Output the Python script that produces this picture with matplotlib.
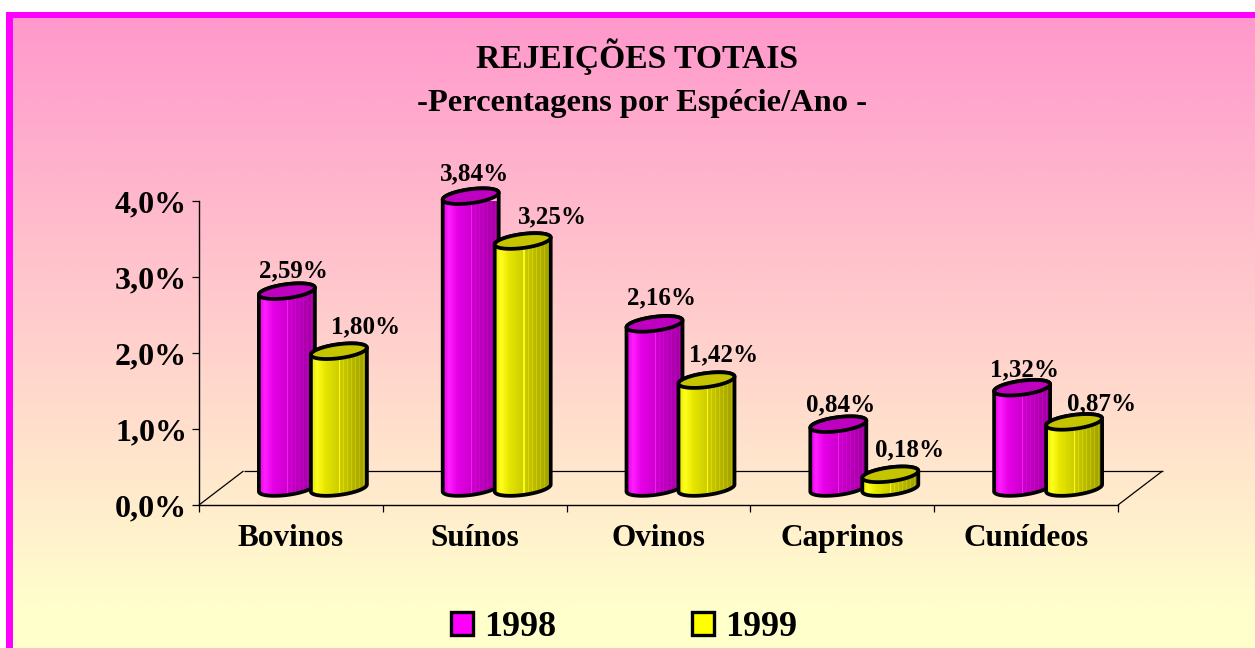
import numpy as np
import matplotlib
matplotlib.use("Agg")
import matplotlib.pyplot as plt
from matplotlib.patches import PathPatch, Patch, Rectangle
from matplotlib.path import Path
from matplotlib.colors import LinearSegmentedColormap

categories = ["Bovinos", "Suínos", "Ovinos", "Caprinos", "Cunídeos"]
years = ["1998", "1999"]
values_1998 = [2.59, 3.84, 2.16, 0.84, 1.32]
values_1999 = [1.80, 3.25, 1.42, 0.18, 0.87]
labels_1998 = ["2,59%", "3,84%", "2,16%", "0,84%", "1,32%"]
labels_1999 = ["1,80%", "3,25%", "1,42%", "0,18%", "0,87%"]
yticks = [0, 1, 2, 3, 4]
yticklabels = ["0,0%", "1,0%", "2,0%", "3,0%", "4,0%"]
side_color = [(1, 0, 1), (1, 1, 0)]
top_color = ["#C000C0", "#C4C400"]
# label placement relative to the top of each cylinder, in pixels (dx, dy upward)
label_px_1998 = [(7, 20), (4, 22), (7, 26), (2, 19), (2, 18)]
label_px_1999 = [(27, 24), (30, 24), (17, 25), (19, 25), (27, 18)]

W, H = 1255, 648
plt.rcParams["font.family"] = ["Liberation Serif", "DejaVu Serif"]
plt.rcParams["font.weight"] = "bold"
fig = plt.figure(figsize=(W / 100, H / 100), dpi=100, facecolor="white")

# frame + background gradient
fig.add_artist(Rectangle((6 / W, 0), 1 - 6 / W, 1 - 12 / H, transform=fig.transFigure,
                         fc="#FF00FF", ec="none", zorder=-10))
bg = fig.add_axes([13 / W, 0, 1 - 13 / W, 1 - 18 / H], zorder=0)
bg.axis("off")
cmap = LinearSegmentedColormap.from_list("bg", ["#FF99CC", "#FFFFCC"])
grad = np.clip(np.linspace(0, 1.06, 256), 0, 1)[:, None]
bg.imshow(grad, aspect="auto", cmap=cmap, vmin=0, vmax=1)

ax = fig.add_axes([199 / W, 1 - 505 / H, (1118 - 199) / W, (505 - 201) / H], zorder=1)
ax.patch.set_alpha(0)
ax.set_xlim(0, 5)
ax.set_ylim(0, 4)
ux = 5 / 919   # x data units per pixel
uy = 4 / 304   # y data units per pixel
for s in ("top", "right"):
    ax.spines[s].set_visible(False)
for s in ("left", "bottom"):
    ax.spines[s].set_linewidth(1.0)

# floor
ddx, ddy = 44.5 * ux, 34 * uy
for xs, ys in (([0, ddx], [0, ddy]), ([5, 5 + ddx], [0, ddy]), ([ddx, 5 + ddx], [ddy, ddy])):
    ax.plot(xs, ys, color="k", lw=0.9, clip_on=False, zorder=1, solid_capstyle="butt")

a, b, s = 28 * ux, 7 * uy, 3.5 * uy


def ring(cx, cy, t):
    return cx + a * np.cos(t), cy + s * np.cos(t) + b * np.sin(t)


def strip(rgb):
    n = 56
    t = np.linspace(0, 1, n)
    f = np.interp(t, [0, 0.1, 0.25, 1], [0.9, 1.0, 0.9, 0.62])
    f = f + ((t > 0.55) & (np.arange(n) % 4 == 0)) * 0.08
    f[(np.arange(n) == 28)] += 0.18
    col = np.outer(f, rgb)
    col = np.where(np.array(rgb) > 0, np.clip(col, 0, 1), np.clip(f - 0.9, 0, 1)[:, None] * 1.2)
    return col[None, :, :]


def cylinder(cx, v, k):
    base = ddy / 2
    top = base + v
    z = 3 + k * 2 + cx
    t1 = np.linspace(np.pi, 2 * np.pi, 60)
    t2 = np.linspace(0, np.pi, 60)
    x1, y1 = ring(cx, base, t1)
    x2, y2 = ring(cx, top, t2)
    verts = np.r_[np.c_[x1, y1], np.c_[x2, y2], [[x1[0], y1[0]]]]
    codes = [Path.MOVETO] + [Path.LINETO] * (len(verts) - 2) + [Path.CLOSEPOLY]
    body = Path(verts, codes)
    im = ax.imshow(strip(side_color[k]), extent=[cx - a, cx + a, 0, 5], aspect="auto",
                   zorder=z, interpolation="nearest", origin="lower")
    clip = PathPatch(body, transform=ax.transData, fc="none", ec="none")
    ax.add_patch(clip)
    clip.set_clip_on(False)
    im.set_clip_path(clip)
    ax.add_patch(PathPatch(body, fc="none", ec="k", lw=2.7, zorder=z + 0.1, clip_on=False))
    tt = np.linspace(0, 2 * np.pi, 120)
    xt, yt = ring(cx, top, tt)
    ax.fill(xt, yt, fc=top_color[k], ec="k", lw=2.7, zorder=z + 0.2, clip_on=False)


offsets = [-26 * ux, 26 * ux]
series = [values_1998, values_1999]
texts = [labels_1998, labels_1999]
label_px = [label_px_1998, label_px_1999]
for k in range(2):
    for i, v in enumerate(series[k]):
        cx = i + 0.5 + 22 * ux + offsets[k]
        cylinder(cx, v, k)
        dx, dy = label_px[k][i]
        ax.annotate(texts[k][i], (cx, ddy / 2 + v), xytext=(dx * 0.72, dy * 0.72),
                    textcoords="offset points", ha="center", va="center",
                    fontsize=18, fontweight="bold", color="k", zorder=30, annotation_clip=False)

ax.set_ylim(0, 4)
ax.set_xlim(0, 5)
ax.set_yticks(yticks)
ax.set_yticklabels(yticklabels, fontsize=23, fontweight="bold")
ax.set_xticks(range(6))
ax.set_xticklabels([])
ax.set_xticks(np.arange(5) + 0.5, minor=True)
ax.set_xticklabels(categories, minor=True, fontsize=22.5, fontweight="bold")
ax.tick_params(axis="x", which="minor", length=0, pad=14)
ax.tick_params(axis="both", which="major", length=5, width=0.9, color="k")
ax.tick_params(axis="y", pad=3.5)

fig.text(637 / W, 1 - 57 / H, "REJEIÇÕES TOTAIS", ha="center", va="center", fontsize=24.2, fontweight="bold", zorder=5)
fig.text(642 / W, 1 - 104 / H, "-Percentagens por Espécie/Ano -", ha="center", va="center", fontsize=23.4, fontweight="bold", zorder=5)

handles = [Patch(fc=side_color[j], ec="k", lw=2.4, label=years[j]) for j in range(2)]
fig.legend(handles=handles, ncol=2, loc="center", bbox_to_anchor=(624 / W, 1 - 628 / H),
           frameon=False, prop={"family": "Liberation Serif", "weight": "bold", "size": 26},
           handlelength=0.62, handleheight=0.62, handletextpad=0.3, columnspacing=3.75,
           borderpad=0, borderaxespad=0)

fig.savefig("out.png", dpi=100)
